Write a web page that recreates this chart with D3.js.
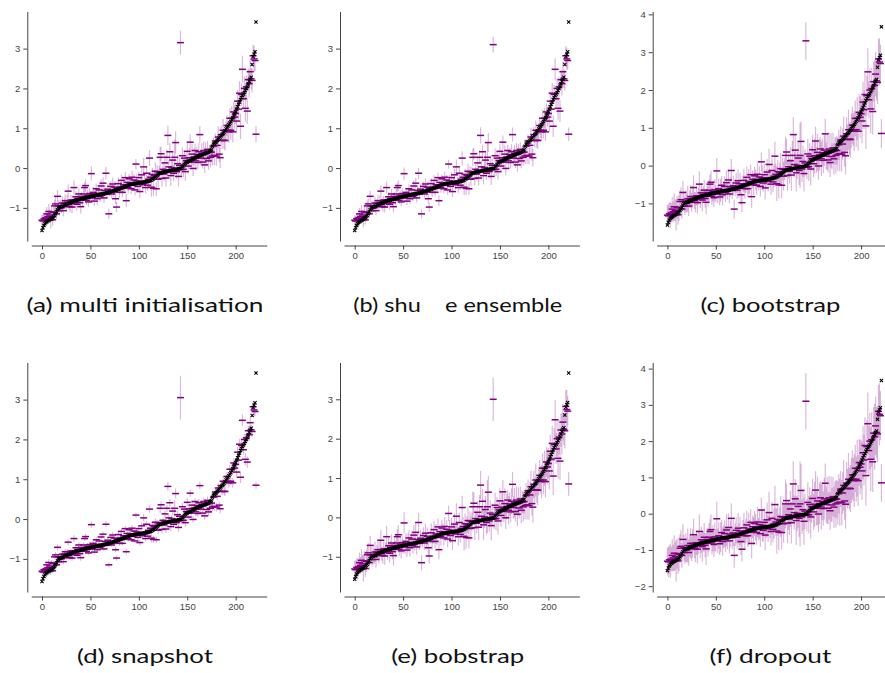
<!DOCTYPE html>
<html>
<head>
<meta charset="utf-8">
<script src="https://cdn.jsdelivr.net/npm/d3@7"></script>
<style>
body{margin:0;background:#fff;}
</style>
</head>
<body>
<svg id="main"></svg>
<script>
//--------data----------
// sorted targets (black x), index 0..221
const targets = [
  -1.57,-1.50,-1.44,-1.40,-1.37,-1.35,-1.33,-1.31,-1.30,-1.28,-1.26,-1.24,-1.22,-1.19,-1.15,-1.10,-1.05,-1.01,
  -0.99,-0.98,-0.97,-0.96,-0.95,-0.93,-0.92,-0.91,-0.90,-0.89,-0.88,-0.87,-0.86,
  -0.85,-0.84,-0.83,-0.82,-0.81,-0.81,-0.80,-0.79,-0.79,-0.78,-0.77,-0.77,-0.76,-0.75,-0.75,-0.74,-0.73,-0.73,-0.72,-0.71,
  -0.71,-0.70,-0.70,-0.69,-0.69,-0.68,-0.68,-0.67,-0.67,-0.66,-0.66,-0.65,-0.65,-0.64,-0.63,-0.63,-0.62,-0.62,-0.61,-0.60,
  -0.59,-0.58,-0.58,-0.57,-0.56,-0.55,-0.55,-0.54,-0.53,-0.52,-0.51,-0.50,-0.49,-0.48,-0.47,-0.46,-0.45,-0.44,-0.43,-0.42,
  -0.41,-0.41,-0.40,-0.40,-0.39,-0.39,-0.39,-0.38,-0.38,-0.38,-0.37,-0.37,-0.36,-0.36,-0.36,-0.35,-0.35,-0.34,-0.34,-0.33,
  -0.32,-0.31,-0.30,-0.28,-0.27,-0.25,-0.23,-0.21,-0.18,-0.16,-0.14,-0.13,-0.12,-0.11,-0.10,
  -0.10,-0.09,-0.09,-0.08,-0.08,-0.07,-0.07,-0.06,-0.06,-0.05,-0.05,-0.04,-0.04,-0.03,-0.03,-0.02,-0.02,-0.01,0.00,0.03,
  0.06,0.09,0.12,0.14,0.15,0.17,0.18,0.19,0.20,0.22,0.23,0.24,0.25,0.27,0.28,
  0.29,0.30,0.31,0.32,0.33,0.34,0.35,0.36,0.37,0.38,0.39,0.40,0.42,0.44,0.46,0.55,
  0.60,0.62,0.64,0.66,0.69,0.72,0.75,0.78,0.81,0.84,0.87,0.90,0.94,0.98,
  1.02,1.05,1.09,1.13,1.17,1.21,1.26,1.31,1.36,1.42,1.48,1.54,1.60,1.66,1.72,
  1.77,1.82,1.86,1.90,1.95,2.00,2.05,2.12,2.18,2.24,2.28,2.60,2.80,2.86,2.92,3.67
];

// prediction minus target, in hundredths (purple dashes)
const predOffset = [
  26,17,17,10,12,20,11,22,12,-2,16,-6,10,24,25,-5,34,6,
  -8,4,-3,8,-12,5,10,-6,8,31,-4,-10,6,
  -13,3,34,-6,9,-10,4,14,-8,-19,6,-4,11,26,31,-7,5,-12,8,-3,
  57,-5,9,-14,4,16,-9,3,12,-6,21,-2,27,-11,7,50,-4,9,-54,2,
  13,-7,18,-3,8,-22,-43,5,14,-9,3,19,-12,6,-4,22,-37,8,-6,15,
  4,-11,17,-3,9,-16,49,6,-8,14,-22,3,19,-6,39,2,-14,21,-9,5,
  57,8,-18,12,-24,6,15,-31,9,-12,4,40,48,-15,7,
  -5,22,-16,35,90,10,48,-13,7,25,-8,31,68,-6,14,-19,9,313,-4,28,
  -9,16,-21,5,27,-12,8,46,-5,13,-24,4,19,-9,6,
  -15,11,53,-7,4,-19,9,-28,3,-14,8,-22,-3,-17,-6,-25,
  -5,-30,4,-36,-12,6,-40,-52,3,-15,8,-20,-25,-6,
  5,-10,-18,12,-22,4,-35,10,-8,-5,-30,14,-12,22,-67,
  8,66,-12,10,-45,4,-62,10,-6,18,-4,-40,2,-12,-22,-282
];

// base half-length of the error bars, in hundredths
const spread = [
  14,16,15,18,13,17,14,19,15,22,16,14,18,15,17,13,16,14,
  12,15,13,18,14,12,16,13,15,17,12,14,13,
  15,12,18,13,14,16,11,15,13,17,12,14,15,13,16,12,14,13,15,12,
  18,13,14,12,16,13,15,12,14,13,17,12,15,13,14,16,12,14,13,12,
  14,12,16,13,15,14,13,12,16,14,13,15,12,17,13,14,16,12,15,13,
  14,13,16,12,15,14,13,17,12,15,16,13,18,14,22,13,15,17,14,16,
  20,15,24,17,19,14,22,18,16,20,15,26,18,21,16,
  17,19,22,20,24,18,21,26,19,23,20,45,28,18,22,25,19,30,17,21,
  20,18,23,17,21,19,24,20,18,26,19,22,17,24,20,
  18,22,21,19,25,17,23,20,24,18,21,22,19,25,20,23,
  21,25,19,24,22,27,20,26,23,21,28,22,25,24,
  26,23,28,25,24,30,27,25,29,26,31,28,27,30,32,
  28,33,26,30,34,29,32,28,35,31,27,30,28,33,26,20
];

const captions = [
  '(a) multi initialisation',
  '(b) shu    e ensemble',
  '(c) bootstrap',
  '(d) snapshot',
  '(e) bobstrap',
  '(f) dropout'
];
const captionWidths = [237, 209, 140, 136, 133, 122];

// per-panel size of the error bars
const errScale = [1.0, 0.85, 1.9, 0.45, 1.5, 2.6];
// the lone high prediction around index 143
const outlierIdx = 143;
const outlierPred = [3.15, 3.10, 3.30, 3.05, 3.00, 3.10];
const outlierSpread = [0.30, 0.20, 0.50, 0.55, 0.55, 0.78];

const xTicks = [0, 50, 100, 150, 200];

//--------code----------
const width = 885, height = 673;
const colX = [0, 312.7, 625.4];
const rowY = [0, 351];

let svg = d3.select('#main')
  .attr('width', width)
  .attr('height', height)
  .style('background', '#fff');

function panelData(p){
  return targets.map((t, i)=>{
    let pred = t + predOffset[i]/100;
    let err = spread[i]/100*errScale[p];
    if(i === outlierIdx){
      pred = outlierPred[p];
      err = outlierSpread[p];
    }
    return {i, t, pred, err};
  });
}

// matplotlib-like 5% margins
function pad(ext){
  let m = (ext[1]-ext[0])*0.05;
  return [ext[0]-m, ext[1]+m];
}

captions.forEach((cap, p)=>{
  let g = svg.append('g')
    .attr('transform', `translate(${colX[p%3]},${rowY[Math.floor(p/3)]})`);
  let pts = panelData(p);

  let sx = d3.scaleLinear()
    .domain(pad([0, pts.length-1]))
    .range([31.3, 266.7]);
  let lo = d3.min(pts, d=>Math.min(d.t, d.pred-d.err));
  let hi = d3.max(pts, d=>Math.max(d.t, d.pred+d.err));
  let sy = d3.scaleLinear()
    .domain(pad([lo, hi]))
    .range([241, 11.5]);

  // error bars
  g.append('g')
    .selectAll('line')
    .data(pts)
    .join('line')
    .attr('x1', d=>sx(d.i))
    .attr('x2', d=>sx(d.i))
    .attr('y1', d=>sy(d.pred-d.err))
    .attr('y2', d=>sy(d.pred+d.err))
    .attr('stroke', '#800080')
    .attr('stroke-opacity', 0.28)
    .attr('stroke-width', 1.2);

  // predictions
  g.append('g')
    .selectAll('line')
    .data(pts)
    .join('line')
    .attr('x1', d=>sx(d.i)-3.5)
    .attr('x2', d=>sx(d.i)+3.5)
    .attr('y1', d=>sy(d.pred))
    .attr('y2', d=>sy(d.pred))
    .attr('stroke', '#800080')
    .attr('stroke-width', 1.5);

  // targets
  g.append('g')
    .selectAll('path')
    .data(pts)
    .join('path')
    .attr('transform', d=>`translate(${sx(d.i)},${sy(d.t)})`)
    .attr('d', 'M-1.6,-1.6L1.6,1.6M-1.6,1.6L1.6,-1.6')
    .attr('stroke', '#000')
    .attr('stroke-width', 1.1)
    .attr('fill', 'none');

  // offset axes
  let ay = d3.axisLeft(sy).ticks(5).tickSize(4).tickPadding(3).tickSizeOuter(0);
  let ax = d3.axisBottom(sx).tickValues(xTicks).tickSize(4).tickPadding(3).tickSizeOuter(0);
  let gy = g.append('g')
    .attr('transform', 'translate(27.3,0)')
    .call(ay);
  let gx = g.append('g')
    .attr('transform', 'translate(0,245.5)')
    .call(ax);
  for(let a of [gx, gy]){
    a.selectAll('path, line').attr('stroke', '#444');
    a.selectAll('text')
      .attr('fill', '#444')
      .style('font-family', '"Liberation Sans", Arial, sans-serif')
      .style('font-size', '9.5px');
  }

  // caption
  g.append('text')
    .attr('x', 145)
    .attr('y', 312)
    .attr('text-anchor', 'middle')
    .attr('textLength', captionWidths[p])
    .attr('lengthAdjust', 'spacingAndGlyphs')
    .style('white-space', 'pre')
    .style('font-family', 'Lato, "Open Sans", sans-serif')
    .style('font-size', '20px')
    .style('fill', '#111')
    .text(cap);
});
</script>
</body>
</html>
